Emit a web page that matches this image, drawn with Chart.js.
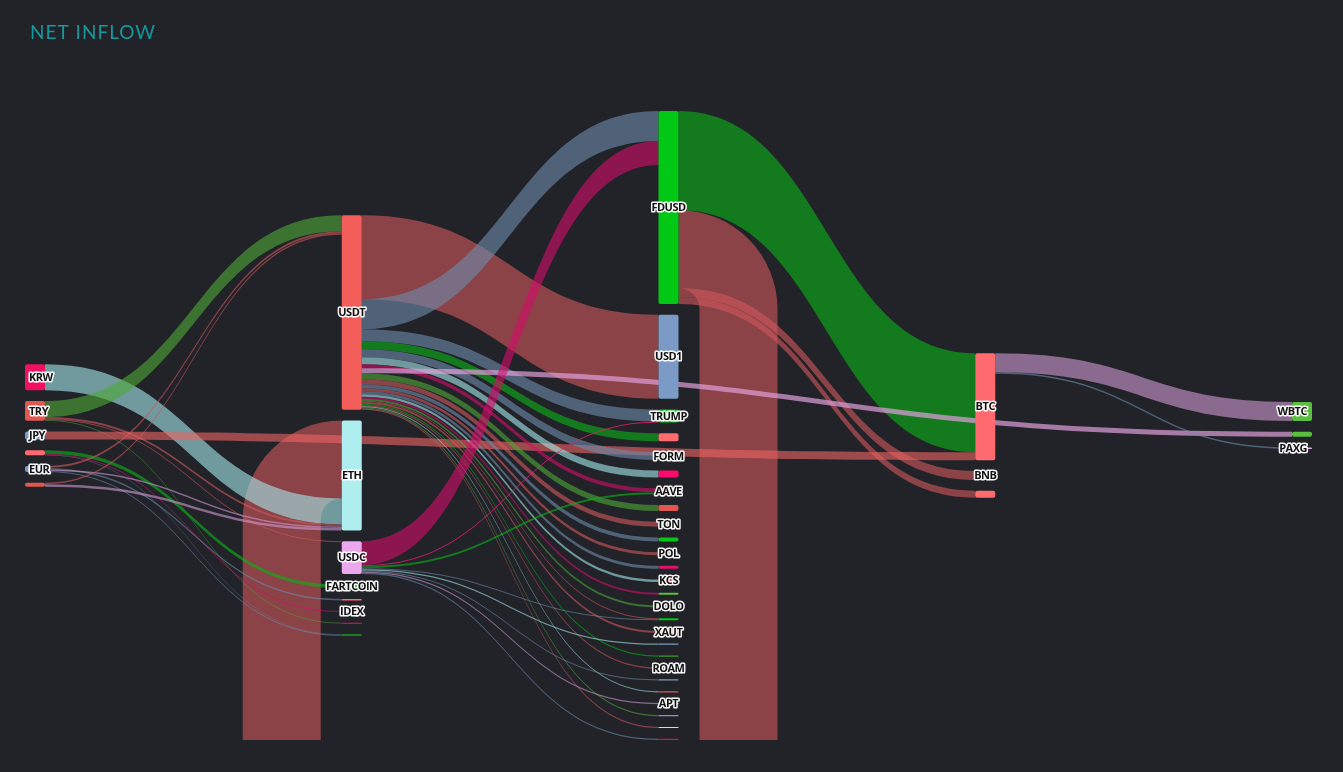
<!DOCTYPE html>
<html>
<head>
<meta charset="utf-8">
<script src="https://cdn.jsdelivr.net/npm/chart.js@4.4.1/dist/chart.umd.min.js"></script>
<style>
  html, body { margin: 0; padding: 0; background: #212329; }
  #wrap { position: relative; width: 1343px; height: 772px; }
  canvas { display: block; }
</style>
</head>
<body>
<div id="wrap"><canvas id="c" width="1343" height="772"></canvas></div>
<script>
// ---------------- DATA ----------------
const chartTitle = 'NET INFLOW';

const nodeLabels = [
  'KRW', 'TRY', 'JPY', '', 'EUR', '',
  'USDT', 'ETH', 'USDC', 'FARTCOIN', '', 'IDEX', '', '',
  'FDUSD', 'USD1', 'TRUMP', '', 'FORM', '', 'AAVE', '', 'TON', '', 'POL', '', 'KCS', '',
  'DOLO', '', 'XAUT', '', '', 'ROAM', '', '', 'APT', '', '', '',
  'BTC', 'BNB', '',
  'WBTC', '', 'PAXG'
];
const nodeColumn = [
  0, 0, 0, 0, 0, 0,
  1, 1, 1, 1, 1, 1, 1, 1,
  2, 2, 2, 2, 2, 2, 2, 2, 2, 2, 2, 2, 2, 2,
  2, 2, 2, 2, 2, 2, 2, 2, 2, 2, 2, 2,
  3, 3, 3,
  4, 4, 4
];

// links: source index, target index, value
const linkSource = [
  14, 14, 14, 14,
  0, 1, 1, 1, 1, 2, 3, 3, 3, 4, 4, 4, 4, 5, 5,
  6, 6, 6, 6, 6, 6, 6, 6, 6, 6,
  6, 6, 6, 6, 6, 6, 6, 6, 6, 6,
  6, 6, 6,
  8, 8, 8, 8, 8, 8, 8, 8,
  40, 40
];
const linkTarget = [
  40, 7, 41, 42,
  7, 6, 7, 8, 12, 40, 9, 11, 13, 6, 10, 7, 13, 6, 7,
  15, 14, 16, 17, 18, 19, 20, 44, 21, 22,
  23, 24, 25, 26, 27, 28, 29, 30, 32, 33,
  35, 37, 38,
  14, 16, 20, 29, 31, 34, 36, 39,
  43, 45
];
const linkValue = [
  99, 78, 9, 7,
  26, 16, 2, 1, 0.8, 8, 3.5, 1, 0.5, 2, 1.5, 1.5, 1, 1.5, 2.5,
  84, 30, 12, 8, 8, 7, 4, 5, 6, 5,
  4, 3, 3, 2.5, 2, 2, 1, 2, 1.2, 1.2,
  1.2, 1.2, 1.2,
  24, 1, 2, 1, 1.2, 1.2, 1.2, 1.2,
  19, 1.5
];

// ---------------- STYLES ----------------
const C_RED = '#f45e5a', C_PINK = '#f0105f', C_SLATE = '#7b9bc6', C_GREEN = '#00c815',
      C_CYAN = '#aeeeee', C_LILAC = '#eba8ee', C_CORAL = '#ff6b6e', C_LGREEN = '#5abf3e', C_DRED = '#e0574f';
const nodeColors = [
  C_PINK, C_DRED, C_SLATE, C_CORAL, C_SLATE, C_DRED,
  C_RED, C_CYAN, C_LILAC, C_GREEN, C_CORAL, C_SLATE, C_PINK, '#1a9a22',
  C_GREEN, C_SLATE, C_GREEN, C_CORAL, C_SLATE, '#ff0a6c', C_CORAL, C_DRED, C_LGREEN, C_GREEN, C_SLATE, '#e0136a', C_DRED, C_LGREEN,
  C_SLATE, C_GREEN, '#ff0a6c', C_SLATE, '#3a9a2a', C_SLATE, C_SLATE, C_DRED, C_CYAN, C_SLATE, C_CYAN, '#d0115f',
  C_CORAL, '#aeb8d0', C_CORAL,
  C_LGREEN, C_LGREEN, C_LILAC
];
const L_RED = 'rgba(210,88,91,0.6)', L_RED2 = 'rgba(238,100,98,0.6)', L_SLATE = 'rgba(110,140,174,0.6)',
      L_GREEN = 'rgba(10,180,23,0.6)', L_OLIVE = 'rgba(80,168,55,0.6)', L_TEAL = 'rgba(165,233,235,0.6)',
      L_CRIM = 'rgba(215,13,107,0.6)', L_VIOL = 'rgba(208,155,212,0.6)', L_VIOL2 = 'rgba(225,160,220,0.7)';
const linkColors = [
  L_GREEN, L_RED, L_RED, L_RED,
  L_TEAL, L_OLIVE, L_RED, L_RED, L_OLIVE, L_RED2, L_GREEN, L_CRIM, L_SLATE, L_RED, L_SLATE, L_VIOL, L_SLATE, L_RED, L_VIOL,
  L_RED, L_SLATE, L_SLATE, L_GREEN, L_SLATE, L_TEAL, L_CRIM, L_VIOL2, L_OLIVE, L_RED,
  L_SLATE, L_RED, L_SLATE, L_TEAL, L_CRIM, L_OLIVE, L_RED, L_RED, L_GREEN, L_RED,
  L_TEAL, L_OLIVE, L_RED,
  L_CRIM, 'rgba(235,30,110,0.8)', L_GREEN, L_SLATE, L_TEAL, L_SLATE, L_VIOL, L_SLATE,
  L_VIOL, L_SLATE
];

// ---------------- LAYOUT (value units) ----------------
const NODE_GAP = 10.7;
const nNodes = nodeLabels.length;
const nLinks = Math.min(linkSource.length, linkTarget.length, linkValue.length);
const inSum = new Array(nNodes).fill(0), outSum = new Array(nNodes).fill(0);
for (let i = 0; i < nLinks; i++) { outSum[linkSource[i]] += linkValue[i]; inSum[linkTarget[i]] += linkValue[i]; }
const nodeValue = inSum.map((v, i) => Math.max(v, outSum[i]));
const nCols = Math.max(...nodeColumn) + 1;
const colTotals = [];
for (let c = 0; c < nCols; c++) {
  const idx = nodeColumn.map((col, i) => col === c ? i : -1).filter(i => i >= 0);
  colTotals[c] = idx.reduce((s, i) => s + nodeValue[i], 0) + (idx.length - 1) * NODE_GAP;
}
const maxTotal = Math.max(...colTotals);
const nodeY0 = new Array(nNodes), nodeY1 = new Array(nNodes);
for (let c = 0; c < nCols; c++) {
  let y = (maxTotal - colTotals[c]) / 2;
  for (let i = 0; i < nNodes; i++) {
    if (nodeColumn[i] !== c) continue;
    nodeY0[i] = y; nodeY1[i] = y + nodeValue[i];
    y = nodeY1[i] + NODE_GAP;
  }
}
const outOff = nodeY0.slice(), inOff = nodeY0.slice();
const linkSY = [], linkTY = [];
for (let i = 0; i < nLinks; i++) {
  const s = linkSource[i], t = linkTarget[i], v = linkValue[i];
  linkSY[i] = outOff[s]; outOff[s] += v;
  linkTY[i] = inOff[t]; inOff[t] += v;
}

// ---------------- DRAWING PLUGIN ----------------
const NODE_W = 20, LOOP_R = 21;
const sankeyPlugin = {
  id: 'sankeyDraw',
  afterDraw(chart) {
    const ctx = chart.ctx, xs = chart.scales.x, ys = chart.scales.y, area = chart.chartArea;
    const px = c => xs.getPixelForValue(c);
    const py = v => ys.getPixelForValue(v);

    ctx.save();
    ctx.beginPath();
    ctx.rect(0, 0, chart.width, area.bottom);
    ctx.clip();

    // links
    for (let i = 0; i < nLinks; i++) {
      const s = linkSource[i], t = linkTarget[i], v = linkValue[i];
      const x0 = px(nodeColumn[s]) + NODE_W, x1 = px(nodeColumn[t]);
      const s0 = py(linkSY[i]), s1 = py(linkSY[i] + v);
      const t0 = py(linkTY[i]), t1 = py(linkTY[i] + v);
      ctx.beginPath();
      if (x1 > x0) {
        const xm = (x0 + x1) / 2;
        ctx.moveTo(x0, s0);
        ctx.bezierCurveTo(xm, s0, xm, t0, x1, t0);
        ctx.lineTo(x1, t1);
        ctx.bezierCurveTo(xm, t1, xm, s1, x0, s1);
        ctx.closePath();
      } else {
        const w = s1 - s0, r = LOOP_R, yb = area.bottom + 300;
        ctx.moveTo(x0, s0);
        ctx.arc(x0, s1 + r, r + w, -Math.PI / 2, 0);
        ctx.lineTo(x0 + r + w, yb + w);
        ctx.lineTo(x1 - r - w, yb + w);
        ctx.lineTo(x1 - r - w, t1 + r);
        ctx.arc(x1, t1 + r, r + w, Math.PI, 1.5 * Math.PI);
        ctx.lineTo(x1, t1);
        ctx.arc(x1, t1 + r, r, 1.5 * Math.PI, Math.PI, true);
        ctx.lineTo(x1 - r, yb);
        ctx.lineTo(x0 + r, yb);
        ctx.lineTo(x0 + r, s1 + r);
        ctx.arc(x0, s1 + r, r, 0, -Math.PI / 2, true);
        ctx.closePath();
      }
      ctx.fillStyle = linkColors[i];
      ctx.fill();
    }

    // nodes
    for (let i = 0; i < nNodes; i++) {
      const x = px(nodeColumn[i]);
      const y0 = py(nodeY0[i]), y1 = py(nodeY1[i]);
      const h = Math.max(1, y1 - y0);
      ctx.beginPath();
      if (ctx.roundRect) ctx.roundRect(x, y0, NODE_W, h, Math.min(2, h / 2));
      else ctx.rect(x, y0, NODE_W, h);
      ctx.fillStyle = nodeColors[i];
      ctx.fill();
    }
    ctx.restore();

    // labels (kept inside the plot's horizontal extent)
    ctx.save();
    ctx.font = 'bold 11px "Open Sans", "Liberation Sans", sans-serif';
    if ('letterSpacing' in ctx) ctx.letterSpacing = '-0.5px';
    ctx.textAlign = 'left';
    ctx.textBaseline = 'middle';
    ctx.lineJoin = 'round';
    const minX = area.left + 4, maxX = px(nCols - 1) + NODE_W - 5;
    for (let i = 0; i < nNodes; i++) {
      if (!nodeLabels[i]) continue;
      const w = ctx.measureText(nodeLabels[i]).width;
      let lx = px(nodeColumn[i]) + NODE_W / 2 - w / 2;
      if (lx < minX) lx = minX;
      if (lx + w > maxX) lx = maxX - w;
      const y = (py(nodeY0[i]) + py(nodeY1[i])) / 2 + 0.5;
      ctx.strokeStyle = 'rgba(255,255,255,0.95)';
      ctx.lineWidth = 3;
      ctx.strokeText(nodeLabels[i], lx, y);
      ctx.fillStyle = '#111111';
      ctx.fillText(nodeLabels[i], lx, y);
    }
    ctx.restore();

    // title
    ctx.save();
    ctx.font = '19px Lato, "Open Sans", sans-serif';
    if ('letterSpacing' in ctx) ctx.letterSpacing = '1px';
    ctx.fillStyle = '#16989d';
    ctx.textAlign = 'left';
    ctx.textBaseline = 'middle';
    ctx.fillText(chartTitle, 30, 33);
    ctx.restore();
  }
};

new Chart(document.getElementById('c'), {
  type: 'scatter',
  data: { datasets: [] },
  options: {
    responsive: false,
    animation: false,
    layout: { padding: { left: 25, right: 51, top: 111, bottom: 32 } },
    scales: {
      x: { type: 'linear', min: 0, max: nCols - 1, display: false },
      y: { type: 'linear', min: 0, max: maxTotal, reverse: true, display: false }
    },
    plugins: { legend: { display: false }, tooltip: { enabled: false }, title: { display: false } }
  },
  plugins: [sankeyPlugin]
});
</script>
</body>
</html>
